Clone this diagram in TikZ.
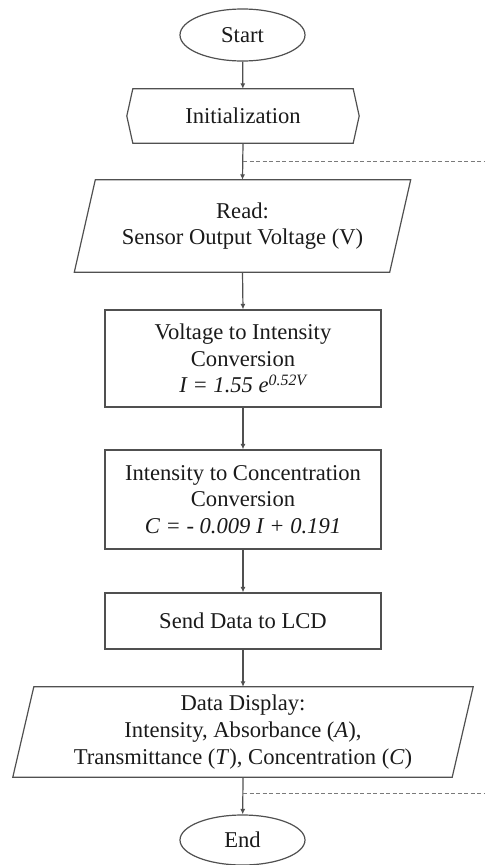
\documentclass[tikz,border=0pt]{standalone}
\usepackage{fontspec}
\setmainfont{Liberation Serif}
\usetikzlibrary{arrows.meta,shapes.geometric}
\definecolor{linecol}{HTML}{505050}
\definecolor{textcol}{HTML}{1A1A1A}
\definecolor{dashcol}{HTML}{7A7A7A}
\begin{document}
\begin{tikzpicture}[x=1pt,y=-1pt,
  every node/.style={font=\fontsize{22.6}{26.8}\selectfont, text=textcol, inner sep=0pt, align=center},
  boxnode/.style={rectangle, draw=linecol, line width=1.2pt, minimum width=276pt},
  plainnode/.style={rectangle, draw=none},
  termnode/.style={ellipse, draw=linecol, line width=1.2pt, minimum width=125pt, minimum height=52pt},
  outline/.style={draw=linecol, line width=1.2pt, line join=miter},
  arr/.style={draw=linecol, line width=1.2pt, -{Latex[length=5.5pt,width=5pt]}},
  dashline/.style={draw=dashcol, line width=1pt, dash pattern=on 4pt off 2.5pt}
]
\useasboundingbox (0,0) rectangle (485,865);

\node[termnode] (start) at (242.5,35) {Start};

\node[plainnode, minimum width=220pt, minimum height=54pt] (init) at (243,116) {Initialization};
\draw[outline] (init.north west) -- (init.north east) -- ([xshift=6pt]init.east) -- (init.south east)
  -- (init.south west) -- ([xshift=-6pt]init.west) -- cycle;

\node[plainnode, minimum width=315pt, minimum height=92pt] (read) at (242.5,226) {Read:\\Sensor Output Voltage (V)};
\draw[outline] ([xshift=10.5pt]read.north west) -- ([xshift=10.5pt]read.north east)
  -- ([xshift=-10.5pt]read.south east) -- ([xshift=-10.5pt]read.south west) -- cycle;

\node[boxnode, minimum height=97pt] (volt) at (243,358.5) {Voltage to Intensity\\Conversion\\\textit{I = 1.55 e\textsuperscript{0.52V}}};

\node[boxnode, minimum height=99pt] (inten) at (243,499.5) {Intensity to Concentration\\Conversion\\\textit{C = - 0.009 I + 0.191}};

\node[boxnode, minimum height=56pt] (send) at (243,621) {Send Data to LCD};

\node[plainnode, minimum width=439pt, minimum height=90pt] (disp) at (243,732) {Data Display:\\Intensity, Absorbance (\textit{A}),\\Transmittance (\textit{T}), Concentration (\textit{C})};
\draw[outline] ([xshift=10.5pt]disp.north west) -- ([xshift=10.5pt]disp.north east)
  -- ([xshift=-10.5pt]disp.south east) -- ([xshift=-10.5pt]disp.south west) -- cycle;

\node[termnode, minimum height=50pt] (end) at (242.5,840) {End};

\coordinate (j1) at (243,161);
\coordinate (e1) at (485,161);
\coordinate (j2) at (243,793);
\coordinate (e2) at (485,793);

\draw[arr] (start) -- (init);
\draw[arr] (init.south) -- (read.north);
\draw[arr] (read.south) -- (volt.north);
\draw[arr] (volt) -- (inten);
\draw[arr] (inten) -- (send);
\draw[arr] (send.south) -- (disp.north);
\draw[arr] (disp.south) -- (end);
\draw[dashline] (j1) -- (e1);
\draw[dashline] (j2) -- (e2);
\end{tikzpicture}
\end{document}
